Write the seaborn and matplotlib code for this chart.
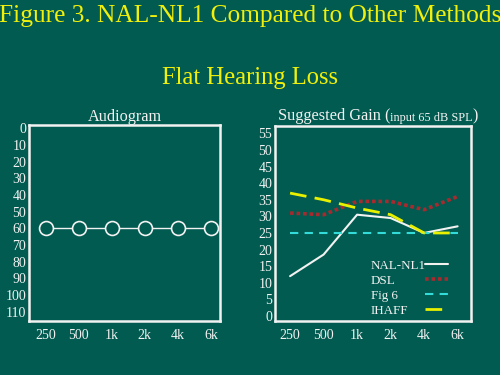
import pandas as pd
import matplotlib
matplotlib.use('Agg')
import matplotlib.pyplot as plt
import seaborn as sns

# data
freqs = ['250', '500', '1k', '2k', '4k', '6k']
audiogram = [60, 60, 60, 60, 60, 60]
nal_nl1 = [12, 18.5, 30.5, 29.5, 25, 27]
dsl = [31, 30.5, 34.5, 34.5, 32, 36]
fig6 = [25, 25, 25, 25, 25, 25]
ihaff = [37, 35, 32.5, 30.5, 25, 25]

bg = '#015b50'
yellow = '#f0f00c'
white = '#f2f2f2'

sns.set_style('dark', {'axes.facecolor': bg, 'figure.facecolor': bg})
plt.rcParams['font.family'] = ['Liberation Serif', 'DejaVu Serif']
plt.rcParams['text.color'] = white

pos = list(range(len(freqs)))
df = pd.DataFrame({'pos': pos, 'audiogram': audiogram, 'NAL-NL1': nal_nl1,
                   'DSL': dsl, 'Fig 6': fig6, 'IHAFF': ihaff})

fig = plt.figure(figsize=(5, 3.75), dpi=100)
fig.patch.set_facecolor(bg)
ax1 = fig.add_axes([0.058, 0.144, 0.382, 0.523])
ax2 = fig.add_axes([0.55, 0.144, 0.392, 0.52])

fig.text(0.5, 0.958, 'Figure 3. NAL-NL1 Compared to Other Methods', ha='center', va='center',
         fontsize=18.3, color=yellow)
fig.text(0.5, 0.792, 'Flat Hearing Loss', ha='center', va='center', fontsize=17.7, color=yellow)

# Audiogram panel
sns.lineplot(data=df, x='pos', y='audiogram', ax=ax1, color=white, lw=1,
             marker='o', markersize=10, markerfacecolor=bg, markeredgecolor=white,
             markeredgewidth=1.2)
ax1.set_xlim(-0.5, 5.27)
ax1.set_ylim(115.5, -2)
ax1.set_yticks(range(0, 111, 10))
ax1.set_title('Audiogram', fontsize=11.7, color=white, pad=3)

# Suggested gain panel
styles = [('NAL-NL1', white, '-', 1.5),
          ('DSL', '#a82a2e', (0, (1, 0.8)), 2.6),
          ('Fig 6', '#33dcd8', (0, (4, 3)), 1.5),
          ('IHAFF', '#e8f000', (0, (6, 3)), 2.0)]
for name, col, ls, lw in styles:
    sns.lineplot(data=df, x='pos', y=name, ax=ax2, color=col, linestyle=ls, lw=lw, label=name)
ax2.set_xlim(-0.45, 5.4)
ax2.set_ylim(-1.5, 57.2)
ax2.set_yticks(range(0, 56, 5))

# legend: labels in one column on the left, line samples lined up on the right
lines = ax2.get_lines()
names = [s[0] for s in styles]
ax2.get_legend().remove()
leg_kw = dict(frameon=False, fontsize=9.4, labelspacing=0.22, borderpad=0, borderaxespad=0)
leg1 = ax2.legend(lines, names, loc='lower left', bbox_to_anchor=(0.49, 0.022),
                  handlelength=0, handletextpad=0, labelcolor=white, **leg_kw)
for h in leg1.legend_handles:
    h.set_visible(False)
ax2.add_artist(leg1)
leg2 = ax2.legend(lines, names, loc='lower left', bbox_to_anchor=(0.765, 0.022),
                  handlelength=1.8, handletextpad=0, **leg_kw)
for txt in leg2.get_texts():
    txt.set_alpha(0)

t = ax2.text(0.015, 1.03, 'Suggested Gain (', transform=ax2.transAxes, fontsize=11.7,
             color=white, va='baseline')
t2 = ax2.annotate('input 65 dB SPL', xy=(1, 0), xycoords=t, va='bottom', fontsize=8.8, color=white)
ax2.annotate(')', xy=(1, 0), xycoords=t2, va='bottom', fontsize=11.7, color=white)

for ax in (ax1, ax2):
    ax.set_xticks(pos)
    ax.set_xticklabels(freqs)
    ax.set_xlabel('')
    ax.set_ylabel('')
    ax.grid(False)
    ax.tick_params(colors=white, labelsize=10, length=0, pad=6)
    ax.tick_params(axis='y', pad=2)
    for s in ax.spines.values():
        s.set_visible(True)
        s.set_color(white)
        s.set_linewidth(1.8)

plt.savefig('out.png', dpi=100, facecolor=bg)
plt.close()
